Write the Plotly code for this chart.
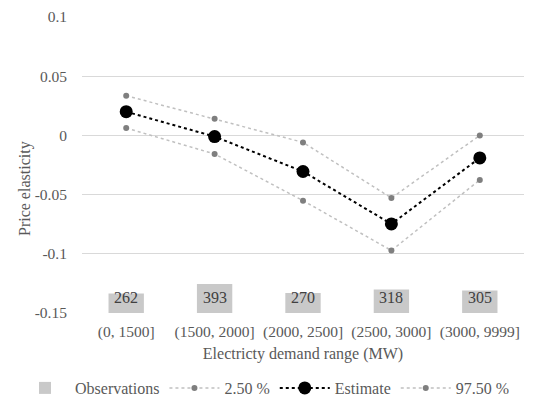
import plotly.graph_objects as go

categories = ["(0, 1500]", "(1500, 2000]", "(2000, 2500]", "(2500, 3000]", "(3000, 9999]"]
observations = [262, 393, 270, 318, 305]
estimate = [0.020, -0.001, -0.0305, -0.0748, -0.019]
ci_low = [0.0062, -0.0157, -0.0551, -0.0972, -0.0376]
ci_high = [0.0335, 0.0141, -0.0059, -0.0528, 0.0]
y_ticks = [0.1, 0.05, 0, -0.05, -0.1, -0.15]
y_tick_text = ["0.1", "0.05", "0", "-0.05", "-0.1", "-0.15"]

FONT = "'Liberation Serif', 'Times New Roman', Times, serif"

# page body has an 8px margin; figure is sized to fill the rest of the window
W, H = 534, 394
L, R, T, B = 74, 18, 9, 89
PW, PH = W - L - R, H - T - B

fig = go.Figure()

fig.add_trace(go.Bar(
    x=categories, y=observations, name="Observations", yaxis="y2",
    marker=dict(color="#c9c9c9", line=dict(width=0)), width=0.4,
))
fig.add_trace(go.Scatter(
    x=categories, y=ci_low, name="2.50 %", mode="lines+markers",
    line=dict(color="#c0c0c0", width=1.5, dash="dot"),
    marker=dict(color="#7f7f7f", size=6),
))
fig.add_trace(go.Scatter(
    x=categories, y=estimate, name="Estimate", mode="lines+markers",
    line=dict(color="#000000", width=2, dash="dot"),
    marker=dict(color="#000000", size=13),
))
fig.add_trace(go.Scatter(
    x=categories, y=ci_high, name="97.50 %", mode="lines+markers",
    line=dict(color="#c0c0c0", width=1.5, dash="dot"),
    marker=dict(color="#7f7f7f", size=6),
))

annotations = []
for c, v in zip(categories, observations):
    # data labels sit at a fixed height inside the base of each bar
    annotations.append(dict(
        x=c, y=0, xref="x", yref="y2", text=str(v), showarrow=False,
        yanchor="middle", yshift=16,
        font=dict(family=FONT, size=16, color="#404040"),
    ))
annotations.append(dict(
    x=(17 - L) / PW, y=(T + PH - 180) / PH, xref="paper", yref="paper",
    text="Price elasticity", showarrow=False, textangle=-90,
    xanchor="center", yanchor="middle",
    font=dict(family=FONT, size=16, color="#595959"),
))

fig.update_layout(
    width=W, height=H,
    margin=dict(l=L, r=R, t=T, b=B, autoexpand=False),
    paper_bgcolor="white", plot_bgcolor="white",
    font=dict(family=FONT, size=16, color="#595959"),
    xaxis=dict(
        type="category", range=[-0.5, 4.5], showgrid=False, zeroline=False,
        showline=False, ticks="outside", ticklen=4, tickcolor="rgba(0,0,0,0)",
        tickfont=dict(family=FONT, size=15.5, color="#595959"),
        title=dict(text="Electricty demand range (MW)", standoff=8,
                   font=dict(family=FONT, size=16, color="#595959")),
        automargin=False,
    ),
    yaxis=dict(
        range=[-0.15, 0.1], tickvals=y_ticks, ticktext=y_tick_text,
        showgrid=True, gridcolor="#d9d9d9", gridwidth=1, zeroline=False,
        showline=False, ticks="", ticklabelstandoff=14,
        tickfont=dict(family=FONT, size=15.5, color="#595959"),
        automargin=False,
    ),
    yaxis2=dict(
        range=[0, 4000], overlaying="y", side="right", visible=False,
        showgrid=False,
    ),
    legend=dict(
        orientation="h", xref="paper", x=(7 - L) / PW, xanchor="left",
        yref="paper", y=(T + PH - 380) / PH, yanchor="middle",
        font=dict(family=FONT, size=16, color="#595959"),
        itemwidth=50, traceorder="normal",
    ),
    annotations=annotations,
    bargap=0.6,
)

fig.write_html("out.html")
